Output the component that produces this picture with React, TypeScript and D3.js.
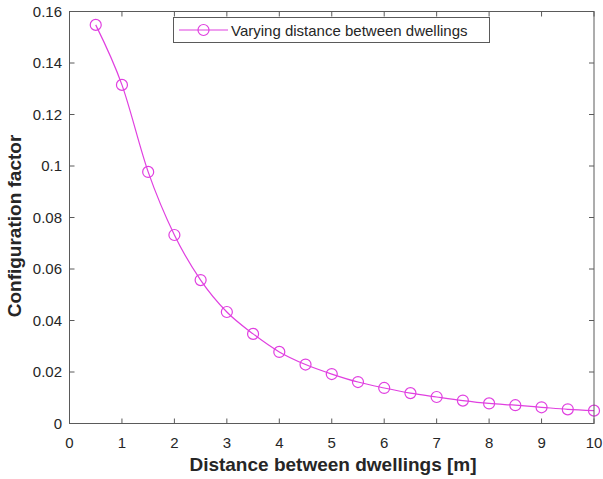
import React from "react";
import * as d3 from "d3";

const xValues = [0.5, 1, 1.5, 2, 2.5, 3, 3.5, 4, 4.5, 5, 5.5, 6, 6.5, 7, 7.5, 8, 8.5, 9, 9.5, 10];
const yValues = [0.1548, 0.1315, 0.0977, 0.0732, 0.0557, 0.0433, 0.0348, 0.0278, 0.0229, 0.0192, 0.0161, 0.0138, 0.0118, 0.0103, 0.0089, 0.0078, 0.0071, 0.0063, 0.0055, 0.0050];
const xTicks = [0, 1, 2, 3, 4, 5, 6, 7, 8, 9, 10];
const yTicks = [0, 0.02, 0.04, 0.06, 0.08, 0.1, 0.12, 0.14, 0.16];
const seriesName = "Varying distance between dwellings";

const W = 603, H = 479;
const L = 69.5, R = 594, T = 11.5, B = 423.5;
const color = "#e040e0";
const axisColor = "#5a5a5a";
const textColor = "#262626";
const font = "Arial, 'Liberation Sans', Helvetica, sans-serif";

export default function App() {
  const x = d3.scaleLinear().domain([0, 10]).range([L, R]);
  const y = d3.scaleLinear().domain([0, 0.16]).range([B, T]);
  const pts = xValues.map((v, i) => [v, yValues[i]] as [number, number]);
  const line = d3.line<[number, number]>().x(d => x(d[0])).y(d => y(d[1])).curve(d3.curveMonotoneX);
  const fmtY = (v: number) => (v === 0 ? "0" : String(+v.toFixed(2)));
  const tl = 5;
  return (
    <svg width={W} height={H} style={{ position: "absolute", left: 0, top: 0, background: "#fff" }}>
      <rect x={0} y={0} width={W} height={H} fill="#fff" />
      <path d={line(pts) || ""} fill="none" stroke={color} strokeWidth={1.2} />
      {pts.map((p, i) => (
        <circle key={i} cx={x(p[0])} cy={y(p[1])} r={5.5} fill="none" stroke={color} strokeWidth={1.2} />
      ))}
      <rect x={L} y={T} width={R - L} height={B - T} fill="none" stroke={axisColor} strokeWidth={1} />
      {xTicks.map(t => (
        <g key={"x" + t}>
          <line x1={x(t)} x2={x(t)} y1={B} y2={B - tl} stroke={axisColor} />
          <line x1={x(t)} x2={x(t)} y1={T} y2={T + tl} stroke={axisColor} />
          <text x={x(t)} y={448} textAnchor="middle" fontFamily={font} fontSize={15} fill={textColor}>{t}</text>
        </g>
      ))}
      {yTicks.map(t => (
        <g key={"y" + t}>
          <line x1={L} x2={L + tl} y1={y(t)} y2={y(t)} stroke={axisColor} />
          <line x1={R} x2={R - tl} y1={y(t)} y2={y(t)} stroke={axisColor} />
          <text x={62} y={y(t) + 5} textAnchor="end" fontFamily={font} fontSize={15} fill={textColor}>{fmtY(t)}</text>
        </g>
      ))}
      <text x={333} y={471} textAnchor="middle" fontFamily={font} fontSize={19} fontWeight="bold" fill={textColor}>Distance between dwellings [m]</text>
      <text transform={`translate(21, 226) rotate(-90)`} textAnchor="middle" fontFamily={font} fontSize={19} fontWeight="bold" fill={textColor}>Configuration factor</text>
      <g>
        <rect x={173.5} y={17.5} width={316} height={25} fill="#fff" stroke={axisColor} strokeWidth={1} />
        <line x1={179} x2={228} y1={30} y2={30} stroke={color} strokeWidth={1.2} />
        <circle cx={203.5} cy={30} r={5.5} fill="none" stroke={color} strokeWidth={1.2} />
        <text x={231} y={35.5} fontFamily={font} fontSize={15} fill={textColor}>{seriesName}</text>
      </g>
    </svg>
  );
}
